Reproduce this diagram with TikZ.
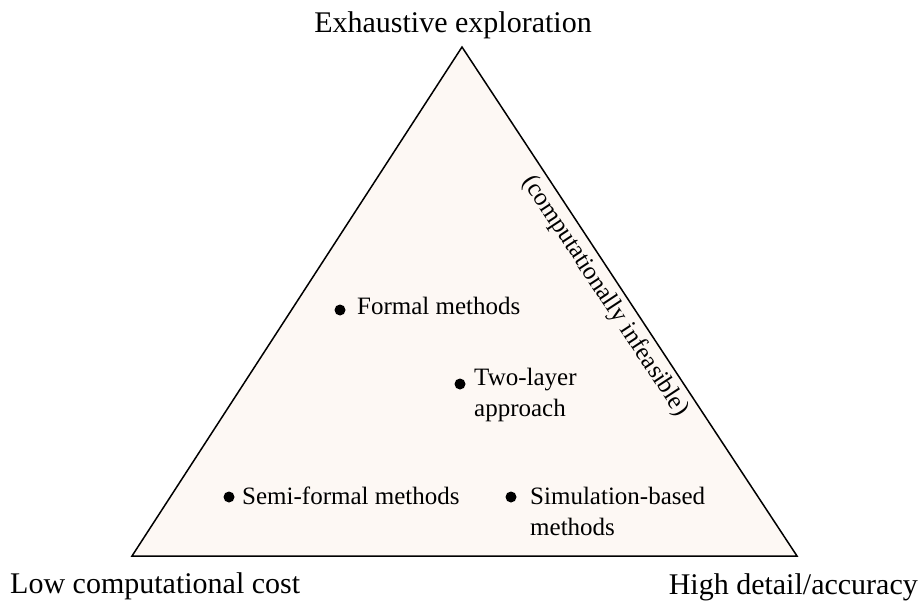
\documentclass[tikz,border=0pt]{standalone}
\usepackage{fontspec}
\setmainfont{Liberation Serif}
\definecolor{paper}{RGB}{253,248,244}
\begin{document}
\begin{tikzpicture}[x=1pt,y=-1pt,
  corner/.style={font=\fontsize{30}{33}\selectfont, inner sep=0pt},
  method/.style={font=\fontsize{25}{31}\selectfont, inner sep=0pt, align=left, anchor=base west},
  dot/.style={circle, fill=black, inner sep=0pt, minimum size=11pt}]
\useasboundingbox (0,0) rectangle (924,607);
% the triangle
\coordinate (T) at (462,47);
\coordinate (L) at (132,556);
\coordinate (R) at (797,556);
\draw[line width=1.5pt, fill=paper, line join=miter] (T) -- (L) -- (R) -- cycle;
% corner labels
\node[corner, anchor=base] (top) at (453,33) {Exhaustive exploration};
\node[corner, anchor=base west] (low) at (10,593) {Low computational cost};
\node[corner, anchor=base east] (high) at (918,594) {High detail/accuracy};
% label along the right edge
\node[method, anchor=center, rotate=-56.65] (inf) at (605,296) {(computationally infeasible)};
% methods (two-line labels are placed at the baseline of their last line)
\node[dot] (d1) at (340,310) {};
\node[method] (formal) at (357,314) {Formal methods};
\node[dot] (d2) at (460,384) {};
\node[method] (two) at (474,416) {Two-layer\\approach};
\node[dot] (d3) at (229,497) {};
\node[method] (semi) at (242,504) {Semi-formal methods};
\node[dot] (d4) at (511,497) {};
\node[method] (sim) at (530,535) {Simulation-based\\methods};
\end{tikzpicture}
\end{document}
